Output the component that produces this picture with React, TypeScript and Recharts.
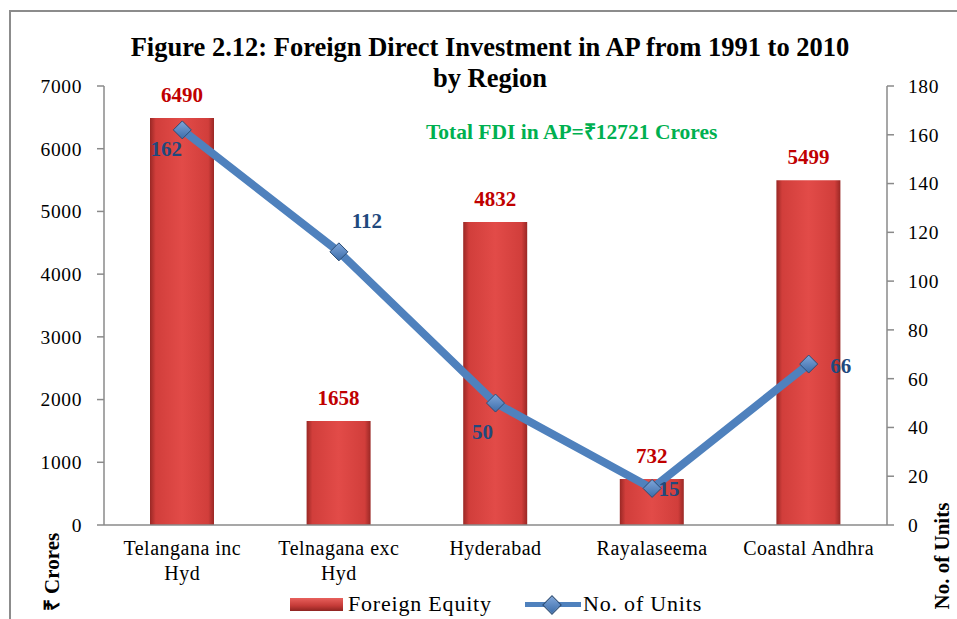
import { ComposedChart, Bar, Line, XAxis, YAxis, LabelList } from "recharts";

const regions = ["Telangana inc Hyd", "Telnagana exc Hyd", "Hyderabad", "Rayalaseema", "Coastal Andhra"];
const foreignEquity = [6490, 1658, 4832, 732, 5499];
const noOfUnits = [162, 112, 50, 15, 66];
const equityTicks = [0, 1000, 2000, 3000, 4000, 5000, 6000, 7000];
const unitTicks = [0, 20, 40, 60, 80, 100, 120, 140, 160, 180];
const boundaryTicks = [0, 1, 2, 3, 4, 5];

const data = regions.map((name, i) => ({ name, equity: foreignEquity[i], units: noOfUnits[i] }));

// label nudges for the line values (dx, dy)
const unitLabelShift = [
  [-16, 19],
  [28, -31],
  [-13, 29],
  [17, 1],
  [32, 2],
];

const FONT = "'Liberation Serif', 'Times New Roman', serif";
const AXIS = "#8a8a8a";

const CatTick = (props: any) => {
  const { x, y, payload } = props;
  const words = String(payload.value).split(" ");
  let lines: string[] = [payload.value];
  if (words.length === 3) lines = [words.slice(0, 2).join(" "), words[2]];
  return (
    <text x={x} y={y} textAnchor="middle" fontFamily={FONT} fontSize={20} fill="#000" style={{ letterSpacing: 0.5 }}>
      {lines.map((l, i) => (
        <tspan key={i} x={x} dy={i === 0 ? 22 : 25}>
          {l}
        </tspan>
      ))}
    </text>
  );
};

const Diamond = (props: any) => {
  const { cx, cy } = props;
  if (cx == null || cy == null) return null;
  const s = 9;
  return (
    <path
      d={`M${cx},${cy - s} L${cx + s},${cy} L${cx},${cy + s} L${cx - s},${cy} Z`}
      fill="url(#diamondFill)"
      stroke="#2C4D75"
      strokeWidth={1}
    />
  );
};

const UnitLabel = (props: any) => {
  const { x, y, value, index } = props;
  const [dx, dy] = unitLabelShift[index] || [0, 0];
  return (
    <text x={x + dx} y={y + dy} textAnchor="middle" dominantBaseline="central" fontFamily={FONT} fontWeight="bold" fontSize={21} fill="#1F497D">
      {value}
    </text>
  );
};

export default function App() {
  return (
    <div style={{ position: "absolute", left: 0, top: 0, width: 957, height: 619, background: "#fff", overflow: "hidden", fontFamily: FONT }}>
      <div style={{ position: "absolute", left: 9, top: 10, width: 970, height: 640, border: "2px solid #8c8c8c", boxSizing: "border-box" }} />
      <div style={{ position: "absolute", left: 0, width: 980, top: 32, textAlign: "center", fontSize: 26.5, fontWeight: "bold", lineHeight: "31px", color: "#000" }}>
        Figure 2.12: Foreign Direct Investment in AP from 1991 to 2010
        <br />
        by Region
      </div>
      <div style={{ position: "absolute", left: 426, top: 116, fontSize: 21.5, fontWeight: "bold", color: "#00B050", whiteSpace: "nowrap" }}>
        Total FDI in AP=₹12721 Crores
      </div>
      <div style={{ position: "absolute", left: 0, top: 0 }}>
        <ComposedChart width={957} height={619} data={data} margin={{ top: 86, right: 0, left: 0, bottom: 34 }}>
          <defs>
            <linearGradient id="barFill" x1="0" y1="0" x2="1" y2="0">
              <stop offset="0%" stopColor="#9A2825" />
              <stop offset="9%" stopColor="#D13E3B" />
              <stop offset="50%" stopColor="#E24B48" />
              <stop offset="91%" stopColor="#D13E3B" />
              <stop offset="100%" stopColor="#9A2825" />
            </linearGradient>
            <linearGradient id="diamondFill" x1="0" y1="0" x2="0" y2="1">
              <stop offset="0%" stopColor="#7FA6DA" />
              <stop offset="100%" stopColor="#3C6DAA" />
            </linearGradient>
          </defs>
          <XAxis
            xAxisId="grid"
            type="number"
            domain={[0, 5]}
            ticks={boundaryTicks}
            height={0}
            axisLine={false}
            tickLine={{ stroke: AXIS, strokeWidth: 1.5 }}
            tickSize={7}
            tickFormatter={() => ""}
          />
          <XAxis
            dataKey="name"
            height={60}
            interval={0}
            tickLine={false}
            axisLine={{ stroke: AXIS, strokeWidth: 1.5 }}
            tick={<CatTick />}
          />
          <YAxis
            yAxisId="left"
            width={104}
            domain={[0, 7000]}
            ticks={equityTicks}
            tickSize={7}
            tickMargin={15}
            axisLine={{ stroke: AXIS, strokeWidth: 1.5 }}
            tickLine={{ stroke: AXIS, strokeWidth: 1.5 }}
            tick={{ fontFamily: FONT, fontSize: 19.5, fill: "#000", letterSpacing: 0.6 }}
          />
          <YAxis
            yAxisId="right"
            orientation="right"
            width={70}
            domain={[0, 180]}
            ticks={unitTicks}
            tickSize={7}
            tickMargin={14}
            axisLine={{ stroke: AXIS, strokeWidth: 1.5 }}
            tickLine={{ stroke: AXIS, strokeWidth: 1.5 }}
            tick={{ fontFamily: FONT, fontSize: 19.5, fill: "#000", letterSpacing: 0.6 }}
          />
          <Bar yAxisId="left" dataKey="equity" fill="url(#barFill)" barSize={64} isAnimationActive={false}>
            <LabelList dataKey="equity" position="top" offset={16} fill="#C00000" fontFamily={FONT} fontWeight="bold" fontSize={21} />
          </Bar>
          <Line
            yAxisId="right"
            dataKey="units"
            stroke="#4F81BD"
            strokeWidth={8}
            dot={<Diamond />}
            activeDot={false}
            isAnimationActive={false}
          >
            <LabelList dataKey="units" content={<UnitLabel />} />
          </Line>
        </ComposedChart>
      </div>
      <span style={{ position: "absolute", left: 290, top: 598, width: 53, height: 13, background: "linear-gradient(#E8605C, #C43A37 60%, #8E2421)" }} />
      <span style={{ position: "absolute", left: 348, top: 591, fontSize: 22, letterSpacing: 0.8, whiteSpace: "nowrap" }}>Foreign Equity</span>
      <span style={{ position: "absolute", left: 525, top: 602, width: 56, height: 5, background: "#4F81BD" }} />
      <span style={{ position: "absolute", left: 545, top: 598, width: 12, height: 12, transform: "rotate(45deg)", background: "linear-gradient(135deg, #7FA6DA, #3C6DAA)", border: "1px solid #2C4D75" }} />
      <span style={{ position: "absolute", left: 583, top: 591, fontSize: 22, letterSpacing: 0.8, whiteSpace: "nowrap" }}>No. of Units</span>
      <div style={{ position: "absolute", left: 51, top: 572, transform: "translate(-50%, -50%) rotate(-90deg)", fontSize: 21, fontWeight: "bold", whiteSpace: "nowrap" }}>
        ₹ Crores
      </div>
      <div style={{ position: "absolute", left: 942, top: 556, transform: "translate(-50%, -50%) rotate(-90deg)", fontSize: 21, fontWeight: "bold", whiteSpace: "nowrap" }}>
        No. of Units
      </div>
    </div>
  );
}
